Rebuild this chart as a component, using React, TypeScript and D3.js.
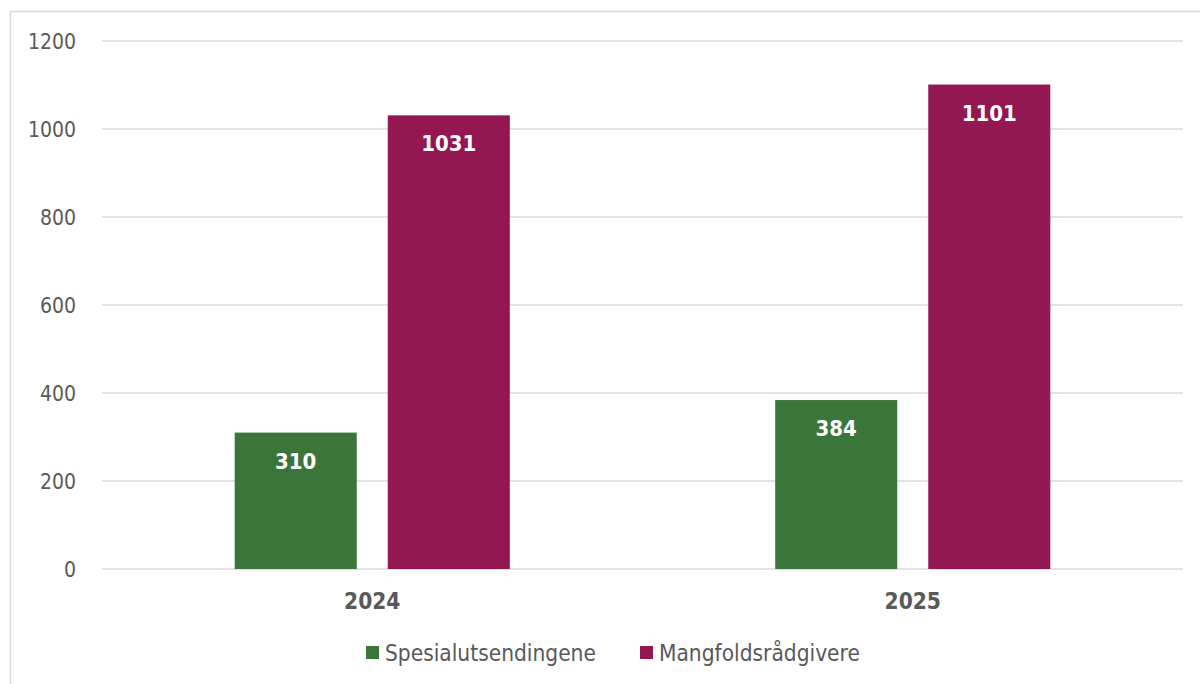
import React, { useEffect, useRef } from "react";
import { select, scaleBand, scaleLinear } from "d3";

const years = ["2024", "2025"];
const seriesNames = ["Spesialutsendingene", "Mangfoldsrådgivere"];
const spesialutsendingene = [310, 384];
const mangfoldsradgivere = [1031, 1101];
const yTicks = [0, 200, 400, 600, 800, 1000, 1200];

const colors = ["#3A763A", "#931751"];
const font = "Tahoma, 'DejaVu Sans Condensed', 'DejaVu Sans', sans-serif";

export default function App() {
  const ref = useRef<SVGSVGElement>(null);
  const width = 1200;
  const height = 684;

  useEffect(() => {
    const svg = select(ref.current);
    svg.selectAll("*").remove();

    const values = [spesialutsendingene, mangfoldsradgivere];

    // chart frame
    svg.append("rect")
      .attr("x", 10.5).attr("y", 11.5)
      .attr("width", 1200).attr("height", 700)
      .attr("fill", "white")
      .attr("stroke", "#d9d9d9").attr("stroke-width", 1.5);

    const left = 102, right = 1183;
    const y = scaleLinear().domain([0, 1200]).range([569, 41]);
    const x0 = scaleBand<string>().domain(years).range([left, right]).paddingInner(0.491).paddingOuter(0.2455);
    const x1 = scaleBand<string>().domain(seriesNames).range([0, x0.bandwidth()]).paddingInner(0.2026);

    // grid + y labels
    const grid = svg.append("g");
    yTicks.forEach(t => {
      grid.append("line")
        .attr("x1", left).attr("x2", right)
        .attr("y1", y(t)).attr("y2", y(t))
        .attr("stroke", "#d9d9d9").attr("stroke-width", 1.5);
      grid.append("text")
        .attr("x", 76).attr("y", y(t))
        .attr("dy", "0.36em")
        .attr("text-anchor", "end")
        .attr("font-family", font).attr("font-size", 21)
        .attr("fill", "#595959")
        .text(t);
    });

    // bars
    seriesNames.forEach((s, si) => {
      const g = svg.append("g");
      years.forEach((yr, i) => {
        const v = values[si][i];
        const bx = (x0(yr) ?? 0) + (x1(s) ?? 0);
        g.append("rect")
          .attr("x", bx).attr("y", y(v))
          .attr("width", x1.bandwidth()).attr("height", y(0) - y(v))
          .attr("fill", colors[si]);
        g.append("text")
          .attr("x", bx + x1.bandwidth() / 2).attr("y", y(v) + 36)
          .attr("text-anchor", "middle")
          .attr("font-family", font).attr("font-size", 22).attr("font-weight", "bold")
          .attr("fill", "white")
          .text(v);
      });
    });

    // x labels
    years.forEach(yr => {
      svg.append("text")
        .attr("x", (x0(yr) ?? 0) + x0.bandwidth() / 2).attr("y", 609)
        .attr("text-anchor", "middle")
        .attr("font-family", font).attr("font-size", 22.5).attr("font-weight", "bold")
        .attr("fill", "#595959")
        .text(yr);
    });

    // legend
    const legendX = [366, 640];
    seriesNames.forEach((s, si) => {
      svg.append("rect")
        .attr("x", legendX[si]).attr("y", 646)
        .attr("width", 13).attr("height", 13)
        .attr("fill", colors[si]);
      svg.append("text")
        .attr("x", legendX[si] + 19).attr("y", 661)
        .attr("font-family", font).attr("font-size", 22.5)
        .attr("fill", "#595959")
        .text(s);
    });
  }, []);

  return (
    <div style={{ position: "absolute", left: 0, top: 0 }}>
      <svg ref={ref} width={width} height={height} style={{ display: "block" }} />
    </div>
  );
}
